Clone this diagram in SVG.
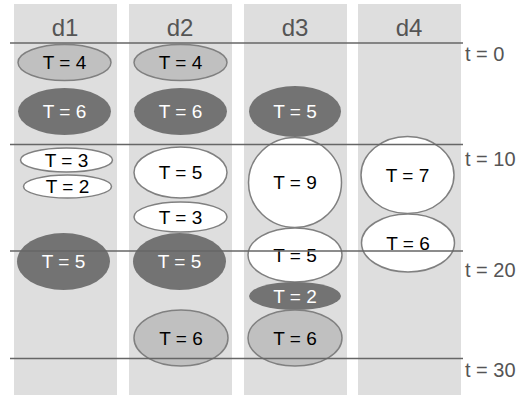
<svg xmlns="http://www.w3.org/2000/svg" width="522" height="395" viewBox="0 0 522 395">
<style>
.col{fill:#dedede}
.hd{font-family:"Liberation Sans",Arial,sans-serif;font-size:24px;fill:#555;text-anchor:middle}
.tl{font-family:"Liberation Sans",Arial,sans-serif;font-size:20px;fill:#555}
.lt ellipse{fill:#c0c0c0;stroke:#808080;stroke-width:1.5}
.wt ellipse{fill:#fff;stroke:#808080;stroke-width:1.5}
.dk ellipse{fill:#737373}
.lt text,.wt text{font-family:"Liberation Sans",Arial,sans-serif;font-size:19px;fill:#000;text-anchor:middle}
.dk text{font-family:"Liberation Sans",Arial,sans-serif;font-size:19px;fill:#fff;text-anchor:middle}
.grid line{stroke:#666;stroke-width:1.5}
</style>
<g id="columns">
<rect class="col" x="14" y="4" width="103" height="391"/>
<rect class="col" x="129" y="4" width="103" height="391"/>
<rect class="col" x="244" y="4" width="103" height="391"/>
<rect class="col" x="358" y="4" width="103" height="391"/>
<text class="hd" x="65" y="36">d1</text>
<text class="hd" x="180" y="36">d2</text>
<text class="hd" x="295" y="36">d3</text>
<text class="hd" x="409" y="36">d4</text>
</g>
<g id="d1-t4" class="lt"><ellipse cx="64.5" cy="62.5" rx="46.5" ry="18"/><text x="64.5" y="69">T = 4</text></g>
<g id="d1-t6" class="dk"><ellipse cx="64.5" cy="111.5" rx="46.5" ry="23.5"/><text x="64.5" y="118">T = 6</text></g>
<g id="d1-t3" class="wt"><ellipse cx="66.5" cy="160" rx="46" ry="12"/><text x="66.5" y="166.5">T = 3</text></g>
<g id="d1-t2" class="wt"><ellipse cx="67.5" cy="186.5" rx="44" ry="11.5"/><text x="67.5" y="193">T = 2</text></g>
<g id="d1-t5" class="dk"><ellipse cx="63.5" cy="261.5" rx="46.5" ry="28.5"/><text x="63.5" y="268">T = 5</text></g>
<g id="d2-t4" class="lt"><ellipse cx="180.5" cy="62.5" rx="46.5" ry="18"/><text x="180.5" y="69">T = 4</text></g>
<g id="d2-t6" class="dk"><ellipse cx="180.5" cy="111.5" rx="46.5" ry="23.5"/><text x="180.5" y="118">T = 6</text></g>
<g id="d2-t5a" class="wt"><ellipse cx="180.5" cy="172.5" rx="46.5" ry="25.5"/><text x="180.5" y="179">T = 5</text></g>
<g id="d2-t3" class="wt"><ellipse cx="180.5" cy="217" rx="46.5" ry="15"/><text x="180.5" y="223.5">T = 3</text></g>
<g id="d2-t5b" class="dk"><ellipse cx="179.5" cy="261.5" rx="46.5" ry="28.5"/><text x="179.5" y="268">T = 5</text></g>
<g id="d2-t6b" class="lt"><ellipse cx="181" cy="338" rx="47" ry="28"/><text x="181" y="344.5">T = 6</text></g>
<g id="d3-t5a" class="dk"><ellipse cx="295" cy="111.5" rx="46" ry="25.5"/><text x="295" y="118">T = 5</text></g>
<g id="d3-t9" class="wt"><ellipse cx="295" cy="182.5" rx="46.5" ry="45"/><text x="295" y="189">T = 9</text></g>
<g id="d3-t5b" class="wt"><ellipse cx="295" cy="255" rx="47" ry="27"/><text x="295" y="262">T = 5</text></g>
<g id="d3-t2" class="dk"><ellipse cx="295" cy="296" rx="46" ry="14"/><text x="295" y="302.5">T = 2</text></g>
<g id="d3-t6" class="lt"><ellipse cx="295" cy="338" rx="47" ry="28"/><text x="295" y="344.5">T = 6</text></g>
<g id="d4-t7" class="wt"><ellipse cx="407.5" cy="175" rx="46.5" ry="38.5"/><text x="407.5" y="181.5">T = 7</text></g>
<g id="d4-t6" class="wt"><ellipse cx="408" cy="243" rx="46.5" ry="29"/><text x="408" y="250">T = 6</text></g>
<g id="timeline" class="grid">
<line x1="10" y1="43" x2="463" y2="43"/>
<line x1="10" y1="144.5" x2="463" y2="144.5"/>
<line x1="10" y1="251" x2="463" y2="251"/>
<line x1="10" y1="358.5" x2="463" y2="358.5"/>
</g>
<g id="time-labels">
<text class="tl" x="465" y="61">t = 0</text>
<text class="tl" x="465" y="166">t = 10</text>
<text class="tl" x="465" y="277">t = 20</text>
<text class="tl" x="465" y="377">t = 30</text>
</g>
</svg>
